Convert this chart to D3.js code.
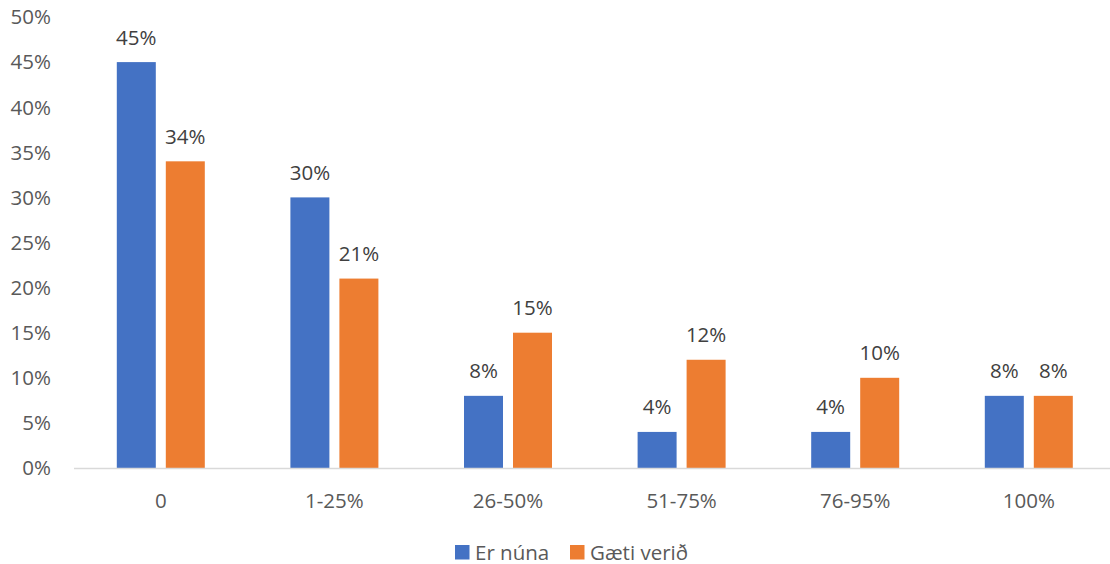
<!DOCTYPE html>
<html><head><meta charset="utf-8">
<script src="https://cdn.jsdelivr.net/npm/d3@7"></script>
<style>body{margin:0;background:#fff;}svg{display:block;font-family:"Open Sans",sans-serif;}</style>
</head><body><svg id="c" width="1110" height="564"></svg>
<script>
const categories = ["0","1-25%","26-50%","51-75%","76-95%","100%"];
const seriesNames = ["Er núna","Gæti verið"];
const erNuna = [45,30,8,4,4,8];
const gaetiVerid = [34,21,15,12,10,8];
const yTicks = [0,5,10,15,20,25,30,35,40,45,50];
const colors = ["#4472C4","#ED7D31"];

(function(){
const svg = d3.select("#c");
const fs = 20.5;
const pLeft = 74, pRight = 1115.6, pTop = 17, pBottom = 468;
const x0 = d3.scaleBand().domain(categories).range([pLeft,pRight]).padding(0);
const y = d3.scaleLinear().domain([0,50]).range([pBottom,pTop]);
const series = [erNuna,gaetiVerid];

svg.append("g").selectAll("text").data(yTicks).join("text")
  .attr("x",51).attr("y",d=>y(d)).attr("dy","0.36em").attr("text-anchor","end")
  .attr("font-size",fs).attr("fill","#595959").text(d=>d+"%");

const g = svg.append("g").selectAll("g").data(categories).join("g")
  .attr("transform",d=>`translate(${x0(d)+x0.bandwidth()/2-44},0)`);
const x1 = d3.scaleBand().domain([0,1]).range([0,88]).paddingInner(10/49).paddingOuter(0);
g.selectAll("rect").data((d,i)=>series.map((s,k)=>({k,v:s[i]}))).join("rect")
  .attr("x",d=>x1(d.k)).attr("width",x1.bandwidth())
  .attr("y",d=>y(d.v)).attr("height",d=>pBottom-y(d.v)).attr("fill",d=>colors[d.k]);
g.selectAll("text").data((d,i)=>series.map((s,k)=>({k,v:s[i]}))).join("text")
  .attr("x",d=>x1(d.k)+x1.bandwidth()/2).attr("y",d=>y(d.v)-17.5)
  .attr("text-anchor","middle").attr("font-size",fs).attr("fill","#404040").text(d=>d.v+"%");

svg.append("line").attr("x1",pLeft).attr("x2",1110).attr("y1",pBottom+0.5).attr("y2",pBottom+0.5)
  .attr("stroke","#d9d9d9").attr("stroke-width",1.5);
svg.append("g").selectAll("text").data(categories).join("text")
  .attr("x",d=>x0(d)+x0.bandwidth()/2).attr("y",507.5).attr("text-anchor","middle")
  .attr("font-size",fs).attr("fill","#595959").text(d=>d);

const legX = [455,570];
const lg = svg.append("g").selectAll("g").data(seriesNames).join("g")
  .attr("transform",(d,i)=>`translate(${legX[i]},545)`);
lg.append("rect").attr("width",14.5).attr("height",14.5).attr("fill",(d,i)=>colors[i]);
lg.append("text").attr("x",20).attr("y",14.5).attr("font-size",fs).attr("fill","#595959").text(d=>d);
})();
</script></body></html>
